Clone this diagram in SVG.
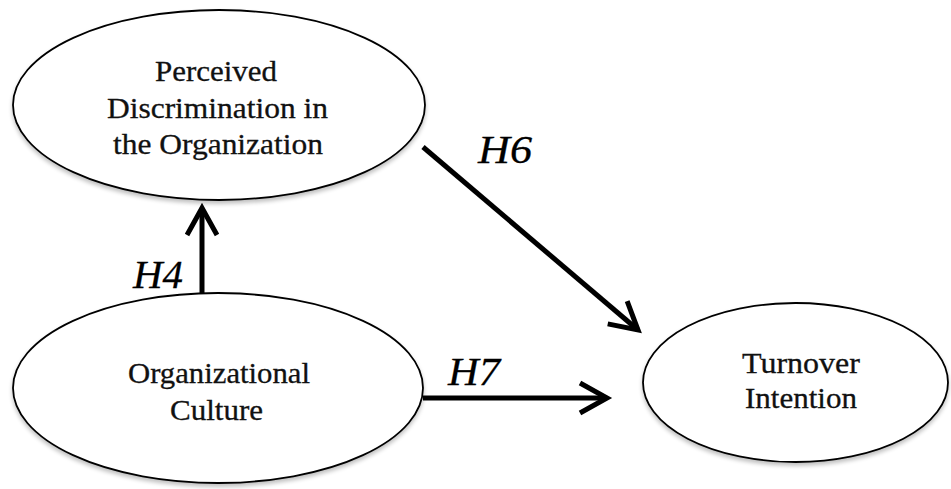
<svg xmlns="http://www.w3.org/2000/svg" width="951" height="489" viewBox="0 0 951 489">
<style>
.node ellipse{fill:#fff;stroke:#000;stroke-width:1.8;filter:url(#sh)}
.lbl{font-family:"Liberation Serif","Times New Roman",serif;font-size:29px;fill:#111;stroke:#111;stroke-width:0.3}
.hyp{font-family:"Liberation Serif","Times New Roman",serif;font-size:40px;font-style:italic;fill:#000;stroke:#000;stroke-width:0.3}
.edge{stroke:#000;stroke-width:5;fill:none;marker-end:url(#arr)}
</style>
<defs>
<filter id="sh" x="-10%" y="-10%" width="120%" height="130%">
<feGaussianBlur in="SourceAlpha" stdDeviation="2"/>
<feOffset dx="0" dy="3" result="b"/>
<feComponentTransfer><feFuncA type="linear" slope="0.25"/></feComponentTransfer>
<feMerge><feMergeNode/><feMergeNode in="SourceGraphic"/></feMerge>
</filter>
<marker id="arr" markerUnits="userSpaceOnUse" viewBox="-34 -22 44 44" markerWidth="44" markerHeight="44" refX="0" refY="0" orient="auto">
<path d="M-27,-15 L0,0 L-27,15" fill="none" stroke="#000" stroke-width="5" stroke-linejoin="miter"/>
</marker>
</defs>
<rect width="951" height="489" fill="#fff"/>
<g id="connectors">
<line class="edge" x1="202" y1="293" x2="202" y2="208"/>
<line class="edge" x1="423" y1="147" x2="638" y2="330"/>
<line class="edge" x1="423" y1="398" x2="607" y2="398"/>
<text class="hyp" x="133" y="288" textLength="50" lengthAdjust="spacingAndGlyphs">H4</text>
<text class="hyp" x="478" y="163" textLength="54" lengthAdjust="spacingAndGlyphs">H6</text>
<text class="hyp" x="448" y="385" textLength="52" lengthAdjust="spacingAndGlyphs">H7</text>
</g>
<g id="node-discrimination" class="node">
<ellipse cx="219" cy="105" rx="206" ry="95"/>
<text class="lbl" x="155" y="81" textLength="122" lengthAdjust="spacingAndGlyphs">Perceived</text>
<text class="lbl" x="107" y="118" textLength="221" lengthAdjust="spacingAndGlyphs">Discrimination in</text>
<text class="lbl" x="113" y="154" textLength="210" lengthAdjust="spacingAndGlyphs">the Organization</text>
</g>
<g id="node-culture" class="node">
<ellipse cx="218" cy="388" rx="205" ry="95"/>
<text class="lbl" x="128" y="383" textLength="182" lengthAdjust="spacingAndGlyphs">Organizational</text>
<text class="lbl" x="170" y="420" textLength="93" lengthAdjust="spacingAndGlyphs">Culture</text>
</g>
<g id="node-turnover" class="node">
<ellipse cx="795.5" cy="382.5" rx="152.5" ry="79.5"/>
<text class="lbl" x="742" y="373" textLength="118" lengthAdjust="spacingAndGlyphs">Turnover</text>
<text class="lbl" x="745" y="408" textLength="112" lengthAdjust="spacingAndGlyphs">Intention</text>
</g>
</svg>
